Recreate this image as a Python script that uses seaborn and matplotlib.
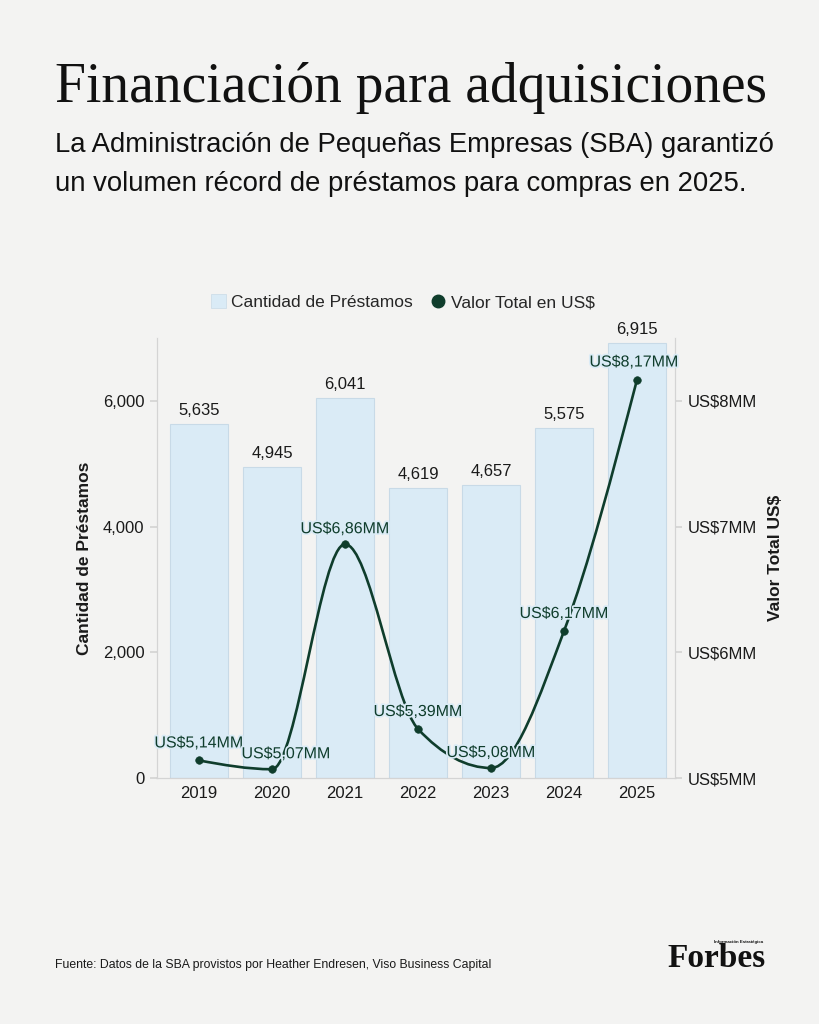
import numpy as np
import pandas as pd
import matplotlib
matplotlib.use("Agg")
import matplotlib.pyplot as plt
import matplotlib.patheffects as pe
from matplotlib.path import Path
from matplotlib.patches import PathPatch
from matplotlib.lines import Line2D
from matplotlib.patches import Patch
import seaborn as sns

# ---- data ----
years = ["2019", "2020", "2021", "2022", "2023", "2024", "2025"]
prestamos = [5635, 4945, 6041, 4619, 4657, 5575, 6915]
valor_mm = [5.14, 5.07, 6.86, 5.39, 5.08, 6.17, 8.17]
left_ticks = [0, 2000, 4000, 6000]
right_ticks = [5, 6, 7, 8]

BG = "#f3f3f2"
BAR = "#daebf6"
BAR_EDGE = "#c8dae7"
GREEN = "#0f3d2c"
TXT = "#1a1a1a"
SPINE = "#d4d4d4"

sns.set_theme(style="white")
plt.rcParams["font.family"] = ["Liberation Sans", "DejaVu Sans"]
NARROW = ["Liberation Sans", "DejaVu Sans"]

fig = plt.figure(figsize=(8.19, 10.24), dpi=100, facecolor=BG)
ax = fig.add_axes([0.1917, 0.2402, 0.6325, 0.4297])
ax.set_facecolor(BG)

df = pd.DataFrame({"year": years, "n": prestamos, "v": valor_mm})
sns.barplot(data=df, x="year", y="n", ax=ax, color=BAR, width=0.8,
            edgecolor=BAR_EDGE, linewidth=0.8, saturation=1, zorder=1)
ax.set_xlim(-0.575, 6.52)
ax.set_ylim(0, 7000)
ax.set_yticks(left_ticks)
ax.set_yticklabels([f"{t:,}" for t in left_ticks])
ax.tick_params(axis="y", length=5, color=SPINE, labelsize=12, labelcolor=TXT, pad=4)
ax.tick_params(axis="x", length=0, labelsize=12, labelcolor=TXT, pad=6)
ax.set_xlabel("")
ax.set_ylabel("Cantidad de Préstamos", fontsize=12.5, fontweight="bold",
              family=NARROW, color=TXT, labelpad=8)
ax.spines["top"].set_visible(False)
for s in ["left", "right", "bottom"]:
    ax.spines[s].set_color(SPINE)
    ax.spines[s].set_linewidth(0.8)

for i, n in enumerate(prestamos):
    ax.annotate(f"{n:,}", (i, n), xytext=(0, 6), textcoords="offset pixels",
                ha="center", va="bottom", fontsize=12, color=TXT)

ax2 = ax.twinx()
ax2.set_ylim(5, 8.5)
ax2.set_yticks(right_ticks)
ax2.set_yticklabels([f"US${t}MM" for t in right_ticks])
ax2.tick_params(axis="y", length=5, color=SPINE, labelsize=12, labelcolor=TXT, pad=4)
ax2.spines["top"].set_visible(False)
for s in ["left", "right", "bottom"]:
    ax2.spines[s].set_color(SPINE)
    ax2.spines[s].set_linewidth(0.8)
ax2.set_ylabel("Valor Total US$", fontsize=12.5, fontweight="bold",
               family=NARROW, color=TXT, labelpad=8)

# smooth monotone curve through the points
x = np.arange(len(valor_mm), dtype=float)
y = np.array(valor_mm, dtype=float)
s = np.diff(y) / np.diff(x)
t = np.zeros_like(y)
for i in range(1, len(y) - 1):
    s0, s1 = s[i - 1], s[i]
    p = (s0 + s1) / 2
    t[i] = (np.sign(s0) + np.sign(s1)) * min(abs(s0), abs(s1), 0.5 * abs(p))
t[0] = (3 * s[0] - t[1]) / 2
t[-1] = (3 * s[-1] - t[-2]) / 2
verts = [(x[0], y[0])]
codes = [Path.MOVETO]
for i in range(len(y) - 1):
    h = x[i + 1] - x[i]
    verts += [(x[i] + h / 3, y[i] + t[i] * h / 3),
              (x[i + 1] - h / 3, y[i + 1] - t[i + 1] * h / 3),
              (x[i + 1], y[i + 1])]
    codes += [Path.CURVE4] * 3
ax2.add_patch(PathPatch(Path(verts, codes), facecolor="none", edgecolor=GREEN,
                        lw=1.9, zorder=3, capstyle="round"))
sns.scatterplot(x=x, y=y, ax=ax2, color=GREEN, s=30, edgecolor=GREEN, zorder=4, legend=False)

offsets = [(0, 10), (14, 8), (0, 8), (0, 10), (0, 8), (0, 10), (-3, 10)]
for i, v in enumerate(valor_mm):
    lab = f"US${v:.2f}MM".replace(".", ",")
    ax2.annotate(lab, (i, v), xytext=offsets[i], textcoords="offset pixels",
                 ha="center", va="bottom", fontsize=11.5, family=NARROW, color=GREEN,
                 zorder=5,
                 path_effects=[pe.withStroke(linewidth=2.5, foreground=BAR)])

# legend
handles = [Patch(facecolor=BAR, edgecolor=BAR_EDGE, linewidth=0.5),
           Line2D([], [], marker="o", color=GREEN, linestyle="none", markersize=9)]
fig.legend(handles, ["Cantidad de Préstamos", "Valor Total en US$"],
           loc="center", bbox_to_anchor=(0.492, 0.705), ncol=2, frameon=False,
           fontsize=12.5, handlelength=0.9, handleheight=0.9, handletextpad=0.3,
           columnspacing=1.0)

# titles
fig.text(0.067, 0.900, "Financiación para adquisiciones", fontsize=40,
         family=["Liberation Serif", "DejaVu Serif"], color="#111111", ha="left", va="baseline")
fig.text(0.067, 0.852, "La Administración de Pequeñas Empresas (SBA) garantizó",
         fontsize=19.8, family=NARROW, color="#111111", ha="left", va="baseline")
fig.text(0.067, 0.813, "un volumen récord de préstamos para compras en 2025.",
         fontsize=19.8, family=NARROW, color="#111111", ha="left", va="baseline")

# footer
fig.text(0.067, 0.0545, "Fuente: Datos de la SBA provistos por Heather Endresen, Viso Business Capital",
         fontsize=8.8, family=NARROW, color=TXT, ha="left", va="baseline")
fig.text(0.935, 0.0555, "Forbes", fontsize=24, fontweight="bold",
         family=["Liberation Serif", "DejaVu Serif"], color="#111111", ha="right", va="baseline")
fig.text(0.932, 0.0790, "Información Estratégica", fontsize=3.2, fontweight="bold",
         family=NARROW, color="#111111", ha="right", va="baseline")

fig.savefig("out.png", dpi=100, facecolor=BG)
